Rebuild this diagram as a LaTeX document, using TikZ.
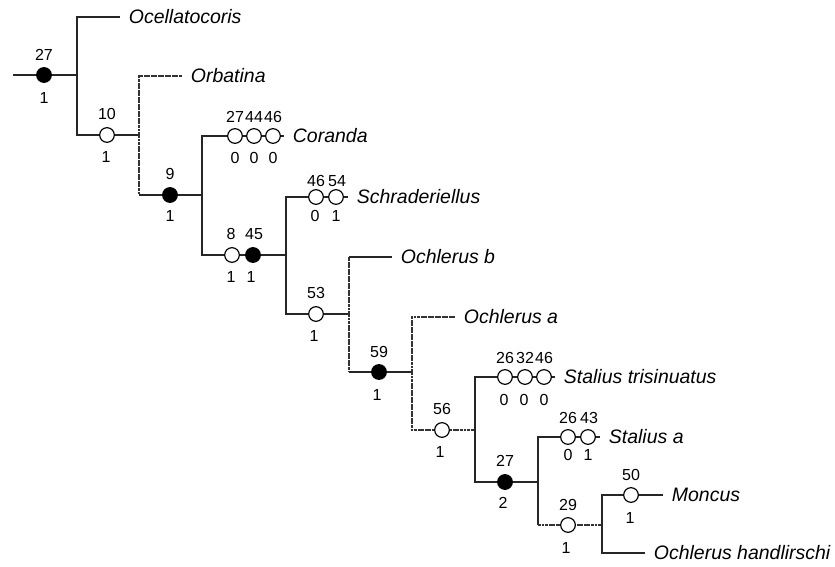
\documentclass[tikz,border=0pt]{standalone}
\usepackage{fontspec}
\setmainfont{Liberation Sans}
\begin{document}
\begin{tikzpicture}[x=0.75pt,y=-0.75pt,
  br/.style={line width=1.05pt, draw=black!85},
  dbr/.style={line width=1.05pt, draw=black!80, dash pattern=on 2.2pt off 0.45pt},
  taxon/.style={anchor=west, inner xsep=6.5pt, inner ysep=0pt, font=\fontsize{14.6}{17}\selectfont\itshape},
  oc/.style={circle, draw=black, line width=0.9pt, fill=white, inner sep=0pt, minimum size=11pt},
  fc/.style={oc, fill=black},
  lab/.style={inner sep=0pt, font=\fontsize{12}{14}\selectfont}]
\useasboundingbox (0,0) rectangle (835,567);
% junctions
\coordinate (r0) at (13,75);
\coordinate (n1) at (77,75);
\coordinate (n2) at (139,135);
\coordinate (n3) at (202,195);
\coordinate (n4) at (286,255);
\coordinate (n5) at (349,314);
\coordinate (n6) at (412,372);
\coordinate (n7) at (475,430);
\coordinate (n8) at (538,482);
\coordinate (n9) at (602,525);
% taxa
\node[taxon] (t1) at (120,17) {Ocellatocoris};
\node[taxon] (t2) at (182,76) {Orbatina};
\node[taxon] (t3) at (284,136) {Coranda};
\node[taxon] (t4) at (348,197) {Schraderiellus};
\node[taxon] (t5) at (392,257) {Ochlerus b};
\node[taxon] (t6) at (455,317) {Ochlerus a};
\node[taxon] (t7) at (555,377) {Stalius trisinuatus};
\node[taxon] (t8) at (600,437) {Stalius a};
\node[taxon] (t9) at (663,495) {Moncus};
\node[taxon] (t10) at (645,553) {Ochlerus handlirschi};
% branches
\draw[br] (r0) -- (n1);
\draw[br] (n1) |- (t1.west);
\draw[br] (n1) |- (n2);
\draw[dbr] (n2) |- (t2.west);
\draw[dbr] (n2) -- (n2 |- n3);
\draw[br] (n2 |- n3) -- (n3);
\draw[br] (n3) |- (t3.west);
\draw[br] (n3) |- (n4);
\draw[br] (n4) |- (t4.west);
\draw[br] (n4) |- (n5);
\draw[dbr] (n5) -- (n5 |- t5.west);
\draw[br] (n5 |- t5.west) -- (t5.west);
\draw[dbr] (n5) -- (n5 |- n6);
\draw[br] (n5 |- n6) -- (n6);
\draw[dbr] (n6) |- (t6.west);
\draw[dbr] (n6) |- (n7);
\draw[br] (n7) |- (t7.west);
\draw[br] (n7) |- (n8);
\draw[br] (n8) |- (t8.west);
\draw[br] (n8) -- (n8 |- n9);
\draw[dbr] (n8 |- n9) -- (n9);
\draw[br] (n9) |- (t9.west);
\draw[br] (n9) |- (t10.west);
% character states
\node[fc] (c1) at (44,75) {};
\node[lab] (c1a) at (44,55) {27};
\node[lab] (c1b) at (44,98) {1};
\node[oc] (c2) at (107,135) {};
\node[lab] (c2a) at (107,114) {10};
\node[lab] (c2b) at (106,157) {1};
\node[fc] (c3) at (170,195) {};
\node[lab] (c3a) at (170,174) {9};
\node[lab] (c3b) at (170,216) {1};
\node[oc] (c4) at (235,136) {};
\node[oc] (c5) at (254,136) {};
\node[oc] (c6) at (273,136) {};
\node[lab] (c4a) at (235,117) {27};
\node[lab] (c5a) at (254,117) {44};
\node[lab] (c6a) at (273,117) {46};
\node[lab] (c4b) at (235,158) {0};
\node[lab] (c5b) at (254,158) {0};
\node[lab] (c6b) at (273,158) {0};
\node[oc] (c7) at (232,255) {};
\node[fc] (c8) at (253,255) {};
\node[lab] (c7a) at (231,234) {8};
\node[lab] (c8a) at (254,234) {45};
\node[lab] (c7b) at (231,277) {1};
\node[lab] (c8b) at (251,277) {1};
\node[oc] (c9) at (316,197) {};
\node[oc] (c10) at (336,197) {};
\node[lab] (c9a) at (316,181) {46};
\node[lab] (c10a) at (337,181) {54};
\node[lab] (c9b) at (315,216) {0};
\node[lab] (c10b) at (336,216) {1};
\node[oc] (c11) at (316,314) {};
\node[lab] (c11a) at (316,293) {53};
\node[lab] (c11b) at (314,336) {1};
\node[fc] (c12) at (379,372) {};
\node[lab] (c12a) at (379,352) {59};
\node[lab] (c12b) at (377,395) {1};
\node[oc] (c13) at (505,377) {};
\node[oc] (c14) at (525,377) {};
\node[oc] (c15) at (544,377) {};
\node[lab] (c13a) at (505,358) {26};
\node[lab] (c14a) at (525,358) {32};
\node[lab] (c15a) at (544,358) {46};
\node[lab] (c13b) at (504,400) {0};
\node[lab] (c14b) at (524,400) {0};
\node[lab] (c15b) at (544,400) {0};
\node[oc] (c16) at (442,430) {};
\node[lab] (c16a) at (442,409) {56};
\node[lab] (c16b) at (440,452) {1};
\node[fc] (c17) at (505,482) {};
\node[lab] (c17a) at (505,461) {27};
\node[lab] (c17b) at (503,503) {2};
\node[oc] (c18) at (568,437) {};
\node[oc] (c19) at (588,437) {};
\node[lab] (c18a) at (568,418) {26};
\node[lab] (c19a) at (589,418) {43};
\node[lab] (c18b) at (568,455) {0};
\node[lab] (c19b) at (588,455) {1};
\node[oc] (c20) at (568,525) {};
\node[lab] (c20a) at (568,505) {29};
\node[lab] (c20b) at (566,548) {1};
\node[oc] (c21) at (631,495) {};
\node[lab] (c21a) at (631,475) {50};
\node[lab] (c21b) at (630,518) {1};
\end{tikzpicture}
\end{document}
